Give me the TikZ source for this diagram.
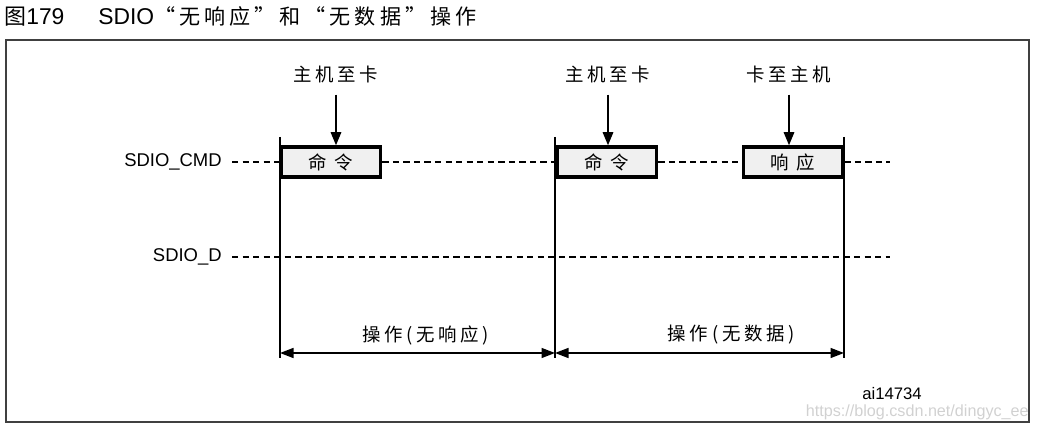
\documentclass[tikz,border=0pt]{standalone}
\usepackage{fontspec}
\setmainfont{Liberation Sans}
\newfontfamily\cjk[LetterSpace=20]{Noto Sans CJK SC}
\newfontfamily\cjkhead[LetterSpace=19]{Noto Sans CJK SC}
\usetikzlibrary{arrows.meta, positioning}

\begin{document}
\begin{tikzpicture}[x=0.02cm, y=-0.02cm,
cn/.style={font=\cjk\fontsize{10.5}{12}\selectfont},
sig/.style={font=\fontsize{10.5}{12}\selectfont, anchor=east, inner sep=0pt},
cell/.style={rectangle, draw=black, fill=black!6, line width=2pt, minimum width=1.98cm,
minimum height=0.6cm, inner sep=0pt, cn},
bus/.style={draw, line width=0.75pt, dash pattern=on 3.6pt off 2.4pt},
guide/.style={draw, line width=0.8pt},
tip/.style={draw, line width=0.8pt, -{Triangle[width=0.21cm, length=0.26cm]}},
span/.style={draw, line width=0.8pt, {Triangle[width=0.2cm, length=0.27cm]}-{Triangle[width=0.2cm, length=0.27cm]}}
]

\useasboundingbox (0,0) rectangle (1037,431);
\draw [line width=0.8pt, black!75] (6,40) rectangle (1029,422);

\node [anchor=west, inner sep=0pt, font=\fontsize{13}{15}\selectfont] (title) at (4,16)
{{\cjkhead\fontsize{12.5}{15}\selectfont 图}179\hspace{0.68cm}SDIO{\cjkhead\fontsize{12}{15}\selectfont “无响应”和“无数据”操作}};

\node [cell] (cmd1) at (331,162) {命 令};
\node [cell] (cmd2) at (607,162) {命 令};
\node [cell] (resp) at (793,162) {响 应};

\node [cn] (host1) at (336,74) {主机至卡};
\node [cn] (host2) at (608,74) {主机至卡};
\node [cn] (card) at (789,74) {卡至主机};

\node [sig] (cmd) at (222,162) {SDIO\_CMD};
\node [sig] (dat) at (222,257) {SDIO\_D};

\coordinate (cmd-end) at (890,162);
\coordinate (dat-end) at (890,257);
\coordinate (g1-top) at (280,137);
\coordinate (g1-bot) at (280,358);
\coordinate (g2-top) at (555,137);
\coordinate (g2-bot) at (555,358);
\coordinate (g3-top) at (844,137);
\coordinate (g3-bot) at (844,358);
\coordinate (m1) at (280,353);
\coordinate (m2) at (555,353);
\coordinate (m3) at (844,353);

\path [bus] ([xshift=0.2cm]cmd.east) -- (cmd1.west);
\path [bus] (cmd1.east) -- (cmd2.west);
\path [bus] (cmd2.east) -- (resp.west);
\path [bus] (resp.east) -- (cmd-end);
\path [bus] ([xshift=0.2cm]dat.east) -- (dat-end);

\path [guide] (g1-top) -- (g1-bot);
\path [guide] (g2-top) -- (g2-bot);
\path [guide] (g3-top) -- (g3-bot);

\path [tip] ([yshift=-0.12cm]host1.south) -- (host1.south |- cmd1.north);
\path [tip] ([yshift=-0.12cm]host2.south) -- (host2.south |- cmd2.north);
\path [tip] ([yshift=-0.12cm]card.south) -- (card.south |- resp.north);

\path [span] (m1) -- node [cn, pos=0.53, yshift=0.36cm] (op1) {操作(无响应)} (m2);
\path [span] (m2) -- node [cn, pos=0.61, yshift=0.36cm] (op2) {操作(无数据)} (m3);

\node [font=\fontsize{9.5}{11}\selectfont] (ref) at (892,394) {ai14734};
\node [anchor=east, inner sep=0pt, text=black!18, font=\fontsize{9.2}{11}\selectfont] (mark)
at (1029,412) {https://blog.csdn.net/dingyc\_ee};

\end{tikzpicture}
\end{document}
